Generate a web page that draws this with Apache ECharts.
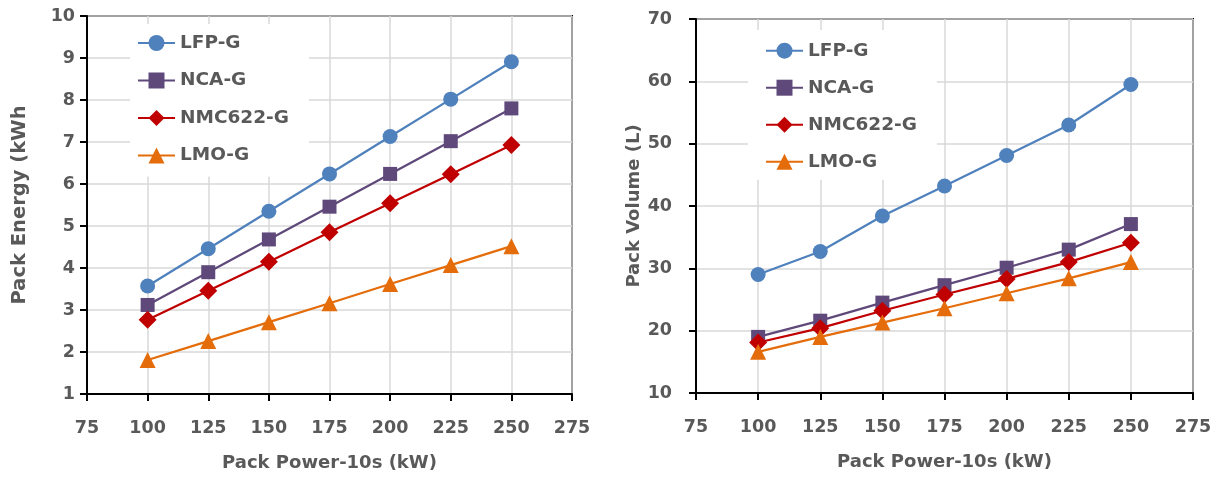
<!DOCTYPE html>
<html lang="en">
<head>
    <meta charset="UTF-8">
    <title>Pack Energy / Pack Volume</title>
    <script src="https://cdn.jsdelivr.net/npm/echarts@6/dist/echarts.min.js"></script>
    <style>
        html,body{margin:0;padding:0;background:#fff;}
        #main{width:1222px;height:477px;}
    </style>
</head>
<body>
<div id="main"></div>
</body>
</html>
<script>
    //data--------------------------
    var power = [100, 125, 150, 175, 200, 225, 250];
    var names = ['LFP-G', 'NCA-G', 'NMC622-G', 'LMO-G'];

    var energyLFP = [3.57, 4.46, 5.35, 6.24, 7.13, 8.02, 8.91];
    var energyNCA = [3.12, 3.90, 4.68, 5.46, 6.24, 7.02, 7.80];
    var energyNMC = [2.77, 3.46, 4.15, 4.85, 5.54, 6.23, 6.93];
    var energyLMO = [1.81, 2.26, 2.71, 3.16, 3.62, 4.07, 4.52];

    var volumeLFP = [29.0, 32.7, 38.4, 43.2, 48.1, 53.0, 59.5];
    var volumeNCA = [19.0, 21.6, 24.5, 27.3, 30.1, 33.0, 37.1];
    var volumeNMC = [18.1, 20.4, 23.2, 25.8, 28.3, 31.0, 34.1];
    var volumeLMO = [16.6, 19.0, 21.3, 23.6, 26.0, 28.4, 31.0];

    var colors = ['#4F81BD', '#5F497A', '#C00000', '#E46C0A'];
    var symbols = ['circle', 'rect', 'diamond', 'triangle'];
    var symbolSizes = [15, 14, 18, 16];

    var font = 'DejaVu Sans';
    var textColor = '#595959';

    function pairs(ys) {
        var out = [];
        for (var i = 0; i < power.length; i++) {
            out.push([power[i], ys[i]]);
        }
        return out;
    }

    function xAxis(gridIndex) {
        return {
            type: 'value',
            gridIndex: gridIndex,
            min: 75,
            max: 275,
            interval: 25,
            name: 'Pack Power-10s (kW)',
            nameLocation: 'middle',
            nameGap: 60,
            nameTextStyle: {color: textColor, fontFamily: font, fontWeight: 'bold', fontSize: 18},
            axisLine: {show: true, lineStyle: {color: '#000', width: 2}},
            axisTick: {show: true, length: 7, lineStyle: {color: '#000', width: 2}},
            axisLabel: {margin: 25, color: textColor, fontFamily: font, fontWeight: 'bold', fontSize: 17.5},
            splitLine: {show: true, lineStyle: {color: '#d9d9d9', width: 1.5}}
        };
    }

    function yAxis(gridIndex, name, nameSize, min, max, interval, labelMargin, nameGap) {
        return {
            type: 'value',
            gridIndex: gridIndex,
            min: min,
            max: max,
            interval: interval,
            name: name,
            nameLocation: 'middle',
            nameGap: nameGap,
            nameTextStyle: {color: textColor, fontFamily: font, fontWeight: 'bold', fontSize: nameSize},
            axisLine: {show: true, lineStyle: {color: '#000', width: 2}},
            axisTick: {show: true, length: 7, lineStyle: {color: '#000', width: 2}},
            axisLabel: {margin: labelMargin, color: textColor, fontFamily: font, fontWeight: 'bold', fontSize: 17.5},
            splitLine: {show: true, lineStyle: {color: '#d9d9d9', width: 1.5}}
        };
    }

    function legend(left, top, gap, padding) {
        return {
            orient: 'vertical',
            left: left,
            top: top,
            data: names,
            itemWidth: 37,
            itemHeight: 20,
            itemGap: gap,
            padding: padding,
            backgroundColor: '#fff',
            textStyle: {color: textColor, fontFamily: font, fontWeight: 'bold', fontSize: 18.5, lineHeight: 20}
        };
    }

    function line(i, data, axisIndex) {
        return {
            name: names[i],
            type: 'line',
            xAxisIndex: axisIndex,
            yAxisIndex: axisIndex,
            data: pairs(data),
            symbol: symbols[i],
            symbolSize: symbolSizes[i],
            showAllSymbol: true,
            color: colors[i],
            lineStyle: {color: colors[i], width: 2.25},
            itemStyle: {color: colors[i]},
            z: 3 + i
        };
    }

    //chart--------------------------
    var chart = echarts.init(document.getElementById('main'));
    var option = {
        animation: false,
        backgroundColor: '#fff',
        grid: [
            {left: 87, top: 16, width: 485, height: 378, show: true, borderColor: '#000', borderWidth: 2, backgroundColor: 'transparent'},
            {left: 696, top: 19, width: 497, height: 374, show: true, borderColor: '#000', borderWidth: 2, backgroundColor: 'transparent'}
        ],
        legend: [
            legend(130, 24, 17.5, [9, 20, 11, 7]),
            legend(748, 30, 17, [10.7, 20, 8, 17])
        ],
        xAxis: [xAxis(0), xAxis(1)],
        yAxis: [
            yAxis(0, 'Pack Energy (kWh', 19.5, 1, 10, 1, 12, 57),
            yAxis(1, 'Pack Volume (L)', 18, 10, 70, 10, 24, 50)
        ],
        series: [
            line(0, energyLFP, 0),
            line(1, energyNCA, 0),
            line(2, energyNMC, 0),
            line(3, energyLMO, 0),
            line(0, volumeLFP, 1),
            line(1, volumeNCA, 1),
            line(2, volumeNMC, 1),
            line(3, volumeLMO, 1)
        ]
    };
    chart.setOption(option);
</script>
